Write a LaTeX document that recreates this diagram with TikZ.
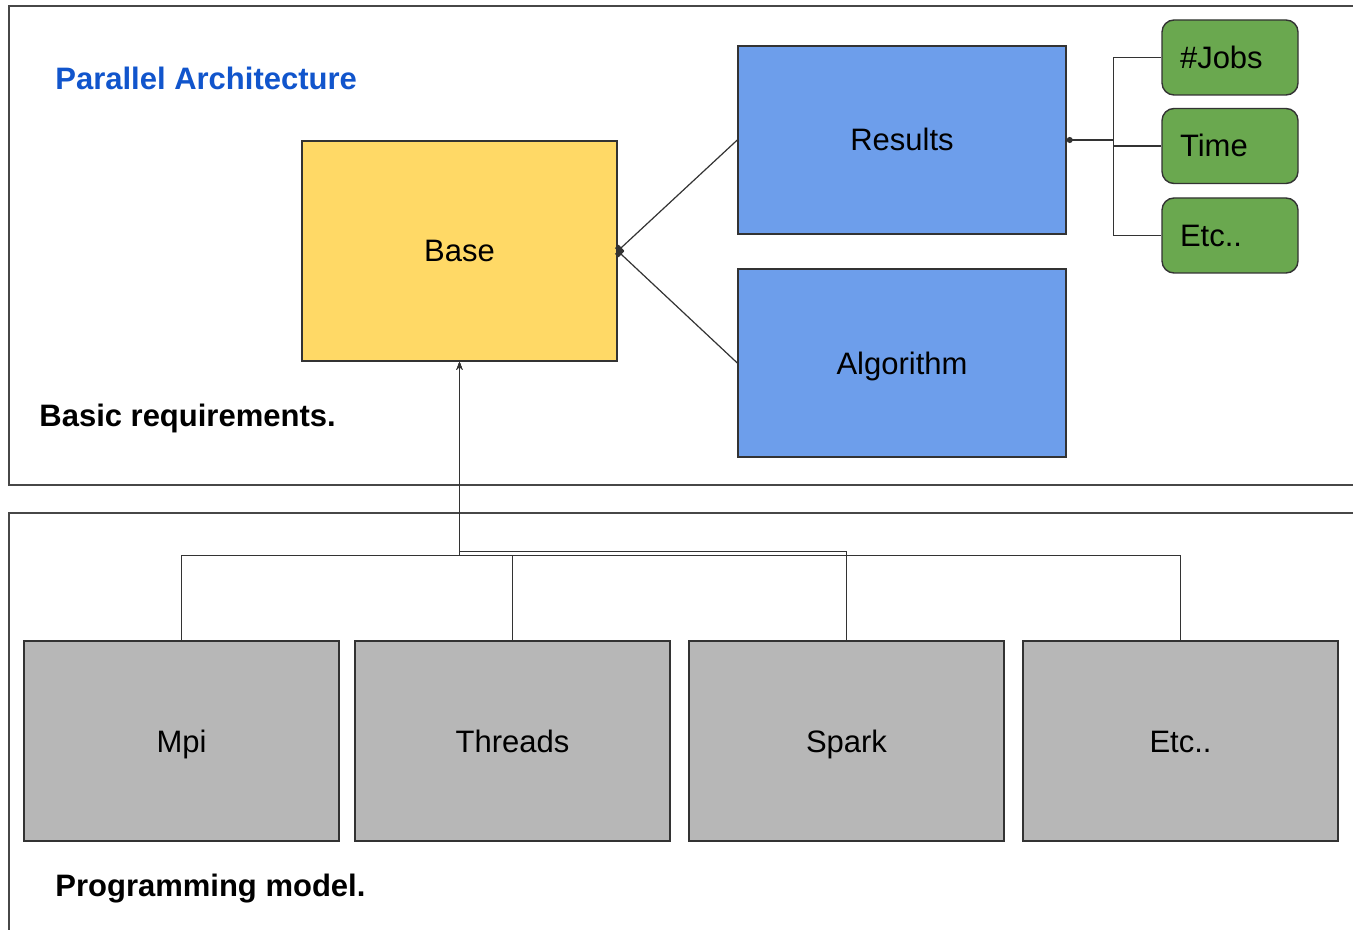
\documentclass[tikz,border=0pt]{standalone}
\usepackage{fontspec}
\setmainfont{Liberation Sans}
\usetikzlibrary{arrows.meta}
\definecolor{baseyellow}{HTML}{FFD966}
\definecolor{boxblue}{HTML}{6D9EEB}
\definecolor{boxgreen}{HTML}{6AA84F}
\definecolor{boxgray}{HTML}{B7B7B7}
\definecolor{titleblue}{HTML}{1155CC}
\definecolor{edge}{HTML}{333333}
\tikzset{>={Stealth[length=4pt,width=3pt]},
    block/.style={draw=edge, line width=0.7pt, inner sep=0pt, text height=11pt, text depth=0pt,
        font=\fontsize{15.5pt}{18pt}\selectfont},
    leaf/.style={block, rounded corners=6pt, fill=boxgreen, minimum height=37.5pt,
        text width=50pt, inner xsep=9pt, align=left},
    model/.style={block, fill=boxgray, minimum width=157.5pt, minimum height=100pt},
    link/.style={draw=edge, line width=0.6pt},
    frame/.style={draw=edge!90, line width=1pt},
    caption/.style={anchor=west, inner sep=0pt, text height=11pt, text depth=0pt,
        font=\fontsize{15.5pt}{18pt}\selectfont\bfseries}}

\begin{document}
\begin{tikzpicture}[x=0.5pt, y=-0.5pt]
    \clip (0,0) rectangle (1353,930);
    \fill[white] (0,0) rectangle (1353,930);
    \draw[frame] (9,6) rectangle (1380,485);
    \draw[frame] (9,513) rectangle (1380,960);
    \node[caption, text=titleblue] (arch) at (55,79) {Parallel Architecture};
    \node[caption] (basic) at (39,415) {Basic requirements.};
    \node[caption] (prog) at (55,885) {Programming model.};
    \node[block, fill=baseyellow, minimum width=157.5pt, minimum height=110pt] (base) at (459.5,251) {Base};
    \node[block, fill=boxblue, minimum width=164pt, minimum height=94pt] (results) at (902,140) {Results};
    \node[block, fill=boxblue, minimum width=164pt, minimum height=94pt] (algo) at (902,363) {Algorithm};
    \node[leaf] (jobs) at (1230,57.5) {\#Jobs};
    \node[leaf] (time) at (1230,146) {Time};
    \node[leaf] (etcres) at (1230,235.5) {Etc..};
    \node[model] (mpi) at (181.5,741) {Mpi};
    \node[model] (threads) at (512.5,741) {Threads};
    \node[model] (spark) at (846.5,741) {Spark};
    \node[model] (etcmod) at (1180.5,741) {Etc..};
    \draw[link, {Square[length=2.5pt,width=4pt]}-] (base.east) -- (results.west);
    \draw[link, {Square[length=2.5pt,width=4pt]}-] (base.east) -- (algo.west);
    \draw[link, {Circle[length=3pt]}-] (results.east) -- ++(47,0) |- (jobs.west);
    \draw[link] (results.east) -- ++(47,0) |- (time.west);
    \draw[link] (results.east) -- ++(47,0) |- (etcres.west);
    \draw[link, ->] (mpi.north) -- ++(0,-85) -| (base.south);
    \draw[link, ->] (threads.north) -- ++(0,-85) -| (base.south);
    \draw[link, ->] (spark.north) -- ++(0,-89) -| (base.south);
    \draw[link, ->] (etcmod.north) -- ++(0,-85) -| (base.south);
\end{tikzpicture}
\end{document}
